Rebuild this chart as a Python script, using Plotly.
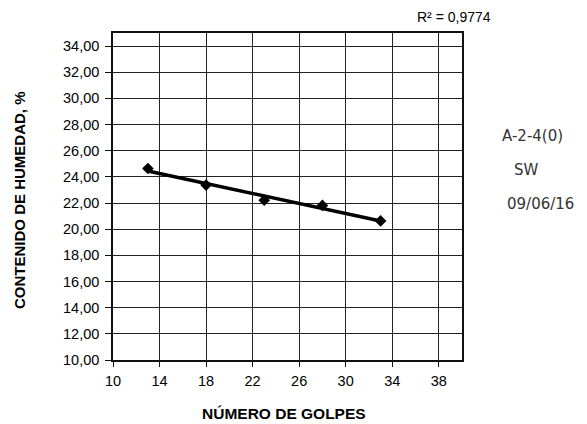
import numpy as np
import plotly.graph_objects as go

golpes = [13, 18, 23, 28, 33]
humedad = [24.64, 23.37, 22.22, 21.82, 20.63]
r2_label = "R² = 0,9774"
x_title = "NÚMERO DE GOLPES"
y_title = "CONTENIDO DE HUMEDAD, %"
notes = ["A-2-4(0)", "SW", "09/06/16"]

# linear trendline computed from the data
slope, intercept = np.polyfit(golpes, humedad, 1)
trend_x = [min(golpes), max(golpes)]
trend_y = [slope * v + intercept for v in trend_x]

fig = go.Figure()
fig.add_trace(go.Scatter(x=trend_x, y=trend_y, mode="lines",
                         line=dict(color="black", width=3.5), showlegend=False))
fig.add_trace(go.Scatter(x=golpes, y=humedad, mode="markers",
                         marker=dict(symbol="diamond", size=9, color="black"),
                         showlegend=False))

font = "Liberation Sans, Arial, sans-serif"
L, R, T, B = 113, 125, 33, 64
fig.update_layout(
    width=587, height=424,
    margin=dict(l=L, r=R, t=T, b=B),
    paper_bgcolor="white", plot_bgcolor="white",
    separators=",.",
    font=dict(family=font, size=14, color="black"),
    xaxis=dict(range=[10, 40], tick0=10, dtick=4, showgrid=True, gridcolor="#222",
               gridwidth=1, showline=True, linecolor="#111", linewidth=1.5, mirror=True,
               ticks="outside", ticklen=5, tickcolor="#111", zeroline=False,
               tickfont=dict(size=14.5), ticklabelstandoff=2),
    yaxis=dict(range=[10, 35], tick0=10, dtick=2, tickformat=".2f", showgrid=True,
               gridcolor="#222", gridwidth=1, showline=True, linecolor="#111",
               linewidth=1.5, mirror=True, ticks="outside", ticklen=6, tickcolor="#111",
               zeroline=False, tickfont=dict(size=14.5), ticklabelstandoff=3),
)

def px_x(p):
    return (p - L) / (587 - L - R)

def px_y(p):
    return 1 - (p - T) / (424 - T - B)

fig.add_annotation(text=r2_label, xref="paper", yref="paper", x=px_x(415), y=px_y(17),
                   xanchor="left", yanchor="middle", showarrow=False,
                   font=dict(size=14))
fig.add_annotation(text="<b>%s</b>" % x_title, xref="paper", yref="paper",
                   x=px_x(284), y=px_y(413), xanchor="center", yanchor="middle",
                   showarrow=False, font=dict(size=15.5))
fig.add_annotation(text="<b>%s</b>" % y_title, xref="paper", yref="paper",
                   x=px_x(19), y=px_y(200), xanchor="center", yanchor="middle",
                   textangle=-90, showarrow=False, font=dict(size=15))

note_pos = [(532, 136), (526, 170), (540, 204)]
for t, (px, py) in zip(notes, note_pos):
    fig.add_annotation(text=t, xref="paper", yref="paper",
                       x=px_x(px), y=px_y(py),
                       xanchor="center", yanchor="middle", showarrow=False,
                       font=dict(family="DejaVu Sans, sans-serif", size=15, color="#333"))

fig.write_html("out.html")
